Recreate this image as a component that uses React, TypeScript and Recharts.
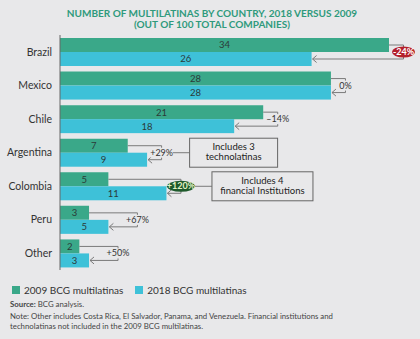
import { BarChart, Bar, XAxis, YAxis, LabelList } from 'recharts'

const countries = ['Brazil', 'Mexico', 'Chile', 'Argentina', 'Colombia', 'Peru', 'Other']
const count2009 = [34, 28, 21, 7, 5, 3, 2]
const count2018 = [26, 28, 18, 9, 11, 5, 3]
const changeLabels = ['-24%', '0%', '–14%', '+29%', '+120%', '+67%', '+50%']
// 'down' / 'up' get a coloured oval, the rest are plain text
const changeTone = ['down', 'plain', 'plain', 'plain', 'up', 'plain', 'plain']
const notes: Record<string, string[]> = {
  Argentina: ['Includes 3', 'technolatinas'],
  Colombia: ['Includes 4', 'financial Institutions'],
}

const data = countries.map((name, i) => ({
  name,
  v2009: count2009[i],
  v2018: count2018[i],
  change: changeLabels[i],
  tone: changeTone[i],
}))

const BG = '#e8e8ea'
const GREEN = '#3aa889'
const CYAN = '#3ec1d8'
const FONT = 'Lato, sans-serif'
const LINE = '#7a7a7a'

// 2018 bar plus the bracket that links it to the 2009 bar above it
function CyanBar(props: any) {
  const { x, y, width, height, payload } = props
  const unit = width / payload.v2018
  const endOld = x + payload.v2009 * unit
  const endNew = x + width
  const top = Math.max(payload.v2009, payload.v2018)
  const bx = x + (top + (top >= 7 ? 1.5 : 3)) * unit
  const yOld = y - height / 2
  const yNew = y + height / 2
  const note = notes[payload.name]
  const plain = payload.tone === 'plain'
  const lw = payload.change.length * 4.6 + 4

  return (
    <g>
      <rect x={x} y={y} width={width} height={height} fill={CYAN} />
      <g stroke={LINE} strokeWidth={1} fill="none">
        <line x1={endOld} y1={yOld} x2={bx} y2={yOld} />
        <line x1={bx} y1={yOld} x2={bx} y2={yNew} />
        <line x1={bx} y1={yNew} x2={endNew + 1} y2={yNew} />
        <polyline points={`${endNew + 5},${yNew - 3.5} ${endNew + 1},${yNew} ${endNew + 5},${yNew + 3.5}`} />
      </g>
      {plain ? (
        <g>
          <rect x={bx - lw / 2} y={y - 5} width={lw} height={10} fill={BG} />
          <text x={bx} y={y + 3} textAnchor="middle" fontSize={9} fill="#333" fontFamily={FONT}>
            {payload.change}
          </text>
        </g>
      ) : (
        <g>
          <ellipse
            cx={bx}
            cy={y}
            rx={payload.tone === 'up' ? 14 : 11.5}
            ry={5.5}
            fill={payload.tone === 'up' ? '#1e5a2c' : '#b4202a'}
          />
          <text
            x={bx}
            y={y + 3}
            textAnchor="middle"
            fontSize={9}
            fontWeight={700}
            fill={payload.tone === 'up' ? '#e2f3c4' : '#fff'}
            fontFamily={FONT}
          >
            {payload.change}
          </text>
        </g>
      )}
      {note && (
        <g>
          <line x1={bx + (plain ? lw / 2 : 14)} y1={y} x2={bx + (plain ? 28 : 31)} y2={y} stroke={LINE} />
          <rect
            x={bx + (plain ? 28 : 31)}
            y={y - 14.5}
            width={plain ? 88 : 101}
            height={29}
            fill={BG}
            stroke="#666"
          />
          {note.map((t, i) => (
            <text
              key={t}
              x={bx + (plain ? 28 + 44 : 31 + 50.5)}
              y={y - 2.5 + i * 10}
              textAnchor="middle"
              fontSize={9.5}
              fill="#222"
              fontFamily={FONT}
            >
              {t}
            </text>
          ))}
        </g>
      )}
    </g>
  )
}

export default function App() {
  return (
    <div
      style={{
        position: 'absolute',
        left: 0,
        top: 0,
        width: 420,
        height: 339,
        background: BG,
        fontFamily: FONT,
        overflow: 'hidden',
      }}
    >
      <div
        style={{
          position: 'absolute',
          left: 0,
          top: 8,
          width: 424,
          textAlign: 'center',
          color: '#2f9a7c',
          fontSize: 10,
          fontWeight: 700,
          lineHeight: '11px',
        }}
      >
        NUMBER OF MULTILATINAS BY COUNTRY, 2018 VERSUS 2009
        <br />
        (OUT OF 100 TOTAL COMPANIES)
      </div>

      <div style={{ position: 'absolute', left: 0, top: 0 }}>
        <BarChart
          width={420}
          height={276}
          data={data}
          layout="vertical"
          margin={{ top: 35, right: 31, left: 0, bottom: 6 }}
          barGap={0}
          barCategoryGap={3}
        >
          <XAxis type="number" domain={[0, 34]} hide />
          <YAxis
            type="category"
            dataKey="name"
            width={60}
            tickLine={false}
            axisLine={{ stroke: '#666' }}
            tick={{ fontSize: 10.5, fill: '#333', fontFamily: FONT }}
          />
          <Bar dataKey="v2009" fill={GREEN} isAnimationActive={false}>
            <LabelList dataKey="v2009" position="center" fontSize={9.5} fill="#2b3a38" fontFamily={FONT} />
          </Bar>
          <Bar dataKey="v2018" fill={CYAN} shape={CyanBar} isAnimationActive={false}>
            <LabelList dataKey="v2018" position="center" fontSize={9.5} fill="#2b3a38" fontFamily={FONT} />
          </Bar>
        </BarChart>
      </div>

      <div
        style={{
          position: 'absolute',
          left: 12,
          top: 284,
          fontSize: 10,
          color: '#333',
          display: 'flex',
          alignItems: 'center',
          lineHeight: '12px',
        }}
      >
        <span style={{ width: 8, height: 8, background: GREEN, marginRight: 4 }} />
        <span style={{ marginRight: 12 }}>2009 BCG multilatinas</span>
        <span style={{ width: 8, height: 8, background: CYAN, marginRight: 4 }} />
        <span>2018 BCG multilatinas</span>
      </div>

      <div
        style={{
          position: 'absolute',
          left: 10,
          top: 299,
          width: 400,
          fontSize: 7.8,
          color: '#444',
          lineHeight: '10px',
        }}
      >
        <div style={{ marginBottom: 2 }}>
          <b>Source:</b> BCG analysis.
        </div>
        <div>
          Note: Other includes Costa Rica, El Salvador, Panama, and Venezuela. Financial institutions and
          <br />
          technolatinas not included in the 2009 BCG multilatinas.
        </div>
      </div>
    </div>
  )
}
